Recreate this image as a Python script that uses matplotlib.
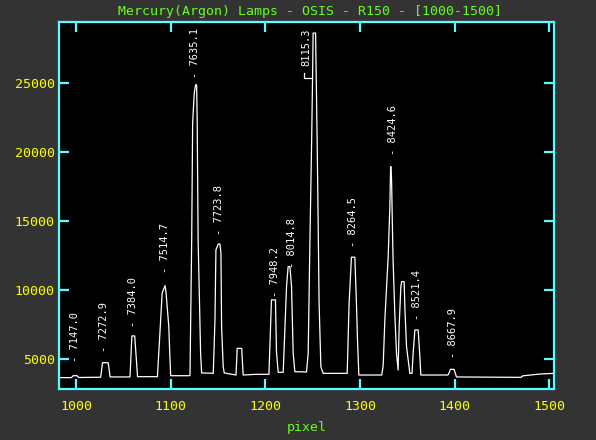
import numpy as np
import matplotlib
matplotlib.use('Agg')
import matplotlib.pyplot as plt

# spectrum trace (pixel, counts)
pixel = [982, 995, 997, 1001, 1003, 1026, 1028, 1034, 1036, 1057, 1059, 1062, 1065,
         1086, 1089, 1091, 1094, 1095, 1098, 1099, 1100, 1119,
         1120.4, 1122.2, 1123.2, 1124.9, 1126.3, 1127.4, 1128, 1129, 1131.6, 1132.7,
         1145, 1146.8, 1147.8, 1150.3, 1152, 1153.1, 1153.8, 1155.5, 1156.6,
         1169, 1170.3, 1175, 1176.6, 1190, 1203.8, 1206.5, 1210.7, 1211.8, 1213.6,
         1218.9, 1222.4, 1224.1, 1226, 1227.7, 1229.4, 1231.2,
         1243.5, 1245.3, 1247.1, 1248.9, 1249.9, 1250.5, 1253.1, 1253.4, 1254.7,
         1255.8, 1256.8, 1258.7, 1261.1,
         1286.5, 1288.5, 1291, 1294.6, 1296.3, 1297.4, 1298.8,
         1323, 1324.5, 1326.3, 1329.8, 1331.6, 1332.3, 1332.6, 1333.4, 1334.4, 1335,
         1336.8, 1338.6, 1340.3, 1341.4, 1343.2, 1344, 1346.7, 1347.4, 1349.2, 1352.7,
         1355, 1356.2, 1358, 1361.5, 1363.3, 1364.3,
         1393, 1394.2, 1395.6, 1399.4, 1402, 1470, 1472, 1490, 1505]
counts = [3650, 3650, 3790, 3790, 3660, 3680, 4730, 4730, 3700, 3700, 6670, 6670, 3720,
          3720, 7340, 9780, 10310, 9900, 7340, 5430, 3790, 3790,
          3800, 13620, 22100, 24250, 24850, 24850, 22320, 13620, 5430, 3990,
          3960, 7830, 12900, 13330, 13330, 12680, 7350, 4440, 3990,
          3840, 5770, 5770, 3840, 3890, 3890, 9280, 9280, 5500, 4035,
          4035, 10240, 11690, 11690, 10240, 5430, 4080,
          4060, 5430, 13400, 20630, 25340, 28600, 28600, 27150, 21110,
          15070, 9060, 4440, 3960,
          3960, 9000, 12370, 12370, 9000, 6380, 3840,
          3840, 4500, 7830, 12420, 16040, 18700, 18930, 17970, 14110, 12170,
          8310, 5410, 4200, 7340, 10240, 10600, 10600, 8790, 5890, 3960,
          3960, 5430, 7100, 7100, 5170, 3840,
          3840, 4000, 4250, 4250, 3700, 3670, 3780, 3910, 3960]

# line identifications: label text, x and bottom of label
line_names = ['7147.0', '7272.9', '7384.0', '7514.7', '7635.1', '7723.8', '7948.2',
              '8014.8', '8115.3', '8264.5', '8424.6', '8521.4', '8667.9']
line_x = [998.6, 1029.6, 1060.2, 1094, 1125.7, 1151, 1210.1,
          1227.7, 1243.5, 1292.8, 1334.7, 1360.3, 1398.4]
line_y = [4800, 5530, 7300, 11210, 25330, 13980, 9510,
          11570, 26180, 13090, 19780, 7830, 5050]

cyan = '#55ffff'
yellow = '#ffff00'
green = '#66ff22'

fig = plt.figure(figsize=(5.96, 4.40), dpi=100, facecolor='#333333')
ax = fig.add_axes([0.099, 0.116, 0.8305, 0.834])
ax.set_facecolor('black')
ax.plot(pixel, counts, color='white', lw=0.9)

for name, x, y in zip(line_names, line_x, line_y):
    if name == '8115.3':
        # label pushed left, with a little elbow back to the line
        ax.text(x, y, name, rotation=90, ha='center', va='bottom', color='white',
                family='DejaVu Sans Mono', fontsize=7.5)
        ax.plot([x - 2.5, x - 2.5, x + 5.5], [y - 500, y - 850, y - 850],
                color='white', lw=0.9)
    else:
        ax.text(x, y, '- ' + name, rotation=90, ha='center', va='bottom', color='white',
                family='DejaVu Sans Mono', fontsize=7.5)

ax.set_xlim(982, 1505)
ax.set_ylim(2830, 29400)
ax.set_xticks([1000, 1100, 1200, 1300, 1400, 1500])
ax.set_yticks([5000, 10000, 15000, 20000, 25000])

for s in ax.spines.values():
    s.set_color(cyan)
    s.set_linewidth(1.6)
ax.tick_params(direction='in', length=7.5, width=1.6, color=cyan,
               top=True, right=True, labelcolor=yellow, labelsize=9.5)
ax.tick_params(axis='x', pad=8)
ax.tick_params(axis='y', pad=3)
for lab in ax.get_xticklabels() + ax.get_yticklabels():
    lab.set_family('DejaVu Sans Mono')

ax.set_xlabel('pixel', color=green, family='DejaVu Sans Mono', fontsize=9.5, labelpad=6)
fig.text(0.52, 0.975, 'Mercury(Argon) Lamps - OSIS - R150 - [1000-1500]', color=green,
         family='DejaVu Sans Mono', fontsize=9.5, ha='center', va='center')

fig.savefig('out.png', dpi=100, facecolor=fig.get_facecolor())
